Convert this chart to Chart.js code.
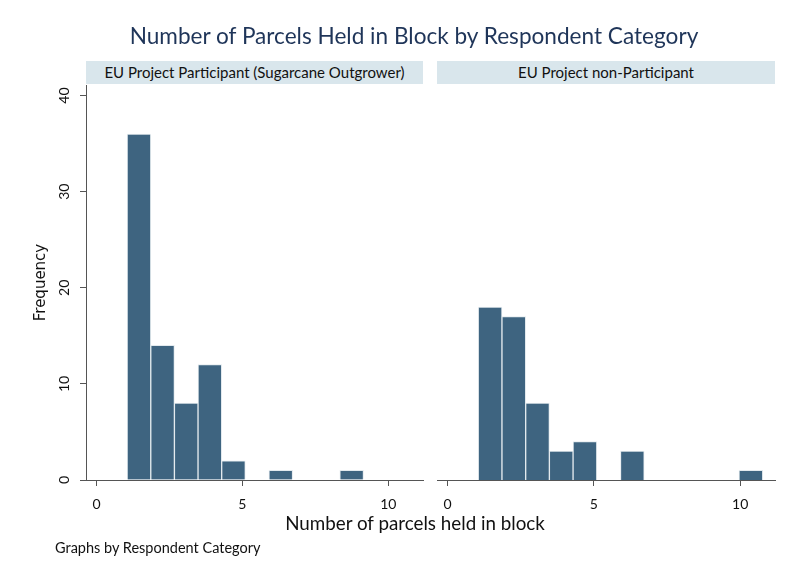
<!DOCTYPE html>
<html>
<head>
<meta charset="utf-8">
<script src="https://cdn.jsdelivr.net/npm/chart.js@4.4.1/dist/chart.umd.min.js"></script>
<style>
  html, body { margin: 0; padding: 0; background: #ffffff; }
  #wrap { position: relative; width: 790px; height: 579px; overflow: hidden; font-family: Lato, "Open Sans", sans-serif; }
  canvas { position: absolute; left: 0; top: 0; }
  .txt { position: absolute; white-space: nowrap; line-height: 1; }
  #title { left: 414px; top: 25px; transform: translateX(-50%); font-size: 22.6px; color: #1f3559; }
  .strip { position: absolute; top: 61px; height: 23px; background: #d9e6ec; color: #111; font-size: 15px; line-height: 23px; text-align: center; }
  #stripL { left: 86px; width: 337px; }
  #stripR { left: 437px; width: 338px; }
  #xtitle { left: 415px; top: 514px; transform: translateX(-50%); font-size: 18.8px; color: #111; }
  #note { left: 55px; top: 541px; font-size: 14.5px; color: #111; }
</style>
</head>
<body>
<div id="wrap">
  <canvas id="chartL" width="790" height="579"></canvas>
  <canvas id="chartR" width="790" height="579"></canvas>
  <div class="txt" id="title">Number of Parcels Held in Block by Respondent Category</div>
  <div class="strip" id="stripL">EU Project Participant (Sugarcane Outgrower)</div>
  <div class="strip" id="stripR">EU Project non-Participant</div>
  <div class="txt" id="xtitle">Number of parcels held in block</div>
  <div class="txt" id="note">Graphs by Respondent Category</div>
</div>
<script>
// Histogram bin midpoints (number of parcels held in block)
const binMids = [1.455, 2.265, 3.075, 3.885, 4.695, 5.505, 6.315, 7.125, 7.935, 8.745, 9.555, 10.365];
// Frequencies per bin, by respondent category
const participantFreq = [36, 14, 8, 12, 2, 0, 1, 0, 0, 1, 0, 0];
const nonParticipantFreq = [18, 17, 8, 3, 4, 0, 3, 0, 0, 0, 0, 1];
// Axis ticks
const xTicks = [0, 5, 10];
const yTicks = [0, 10, 20, 30, 40];

const barFill = '#3e6480';
const barEdge = '#e3eaee';
const axisColor = '#555555';

function points(freqs) {
  return binMids.map((m, i) => ({ x: m, y: freqs[i] }));
}

function makeChart(id, freqs, showY, pad) {
  return new Chart(document.getElementById(id), {
    type: 'bar',
    data: {
      datasets: [{
        data: points(freqs),
        backgroundColor: barFill,
        borderColor: barEdge,
        borderWidth: 1,
        borderSkipped: 'bottom',
        barPercentage: 1,
        categoryPercentage: 1
      }]
    },
    options: {
      responsive: false,
      animation: false,
      devicePixelRatio: 1,
      layout: { padding: pad },
      plugins: { legend: { display: false }, tooltip: { enabled: false }, title: { display: false } },
      scales: {
        x: {
          type: 'linear',
          offset: false,
          min: -0.36,
          max: 11.19,
          afterBuildTicks: s => { s.ticks = xTicks.map(v => ({ value: v })); },
          afterFit: s => { s.height = 30; },
          grid: { offset: false, drawOnChartArea: false, drawTicks: true, tickLength: 6, color: axisColor, lineWidth: 1 },
          border: { display: true, color: axisColor, width: 1 },
          ticks: { color: '#111', font: { family: 'Lato', size: 14 }, padding: 10, maxRotation: 0 }
        },
        y: {
          display: showY,
          min: 0,
          max: 41.1,
          afterBuildTicks: s => { s.ticks = yTicks.map(v => ({ value: v })); },
          afterFit: s => { s.width = 86 - pad.left; },
          grid: { drawOnChartArea: false, drawTicks: true, tickLength: 6, color: axisColor, lineWidth: 1 },
          border: { display: true, color: axisColor, width: 1 },
          ticks: { color: '#111', font: { family: 'Lato', size: 14 }, padding: 7, minRotation: 90, maxRotation: 90, crossAlign: 'center' },
          title: { display: true, text: 'Frequency', color: '#111', font: { family: 'DejaVu Sans', size: 15 }, padding: { top: 4, bottom: 0 } }
        }
      }
    }
  });
}

makeChart('chartL', participantFreq, true, { left: 28, right: 367, top: 85, bottom: 69 });
makeChart('chartR', nonParticipantFreq, false, { left: 437, right: 15, top: 85, bottom: 69 });
</script>
</body>
</html>
